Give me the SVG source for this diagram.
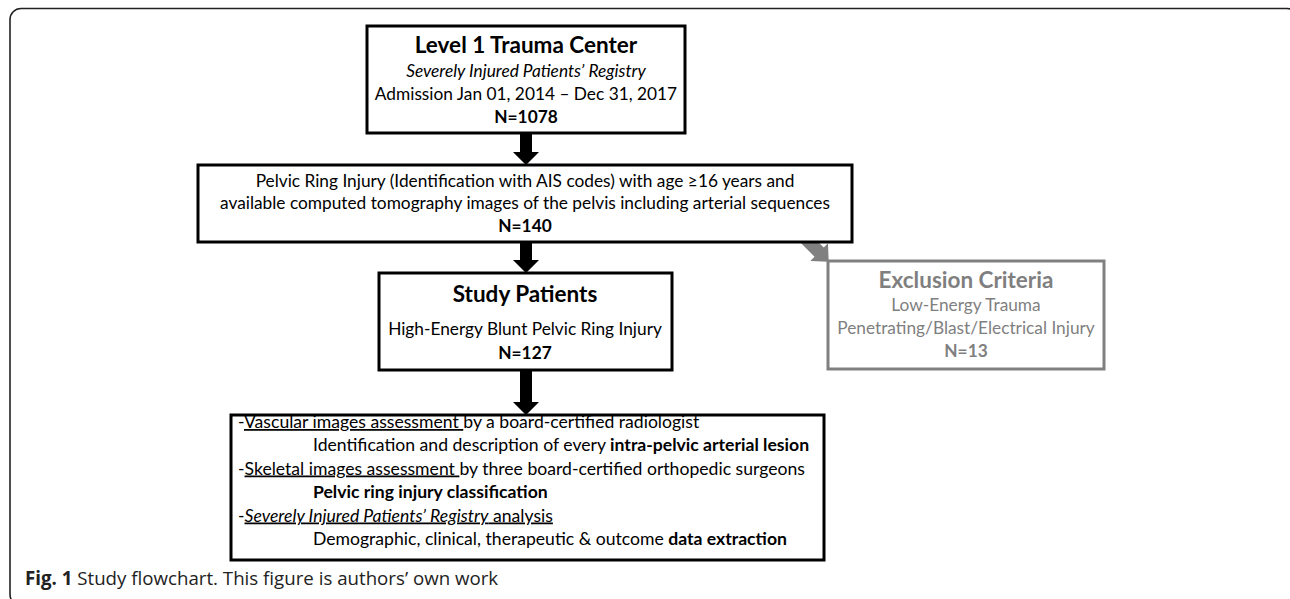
<svg xmlns="http://www.w3.org/2000/svg" width="1290" height="599" viewBox="0 0 1290 599">
<style>
.frame{fill:none;stroke:#222;stroke-width:1.6}
.box{fill:#fff;stroke:#000;stroke-width:3}
.gbox{fill:#fff;stroke:#808080;stroke-width:3}
.t{font-family:Lato,"Liberation Sans",sans-serif;font-size:17.3px;fill:#000}
.s{font-size:17.6px}
.c{text-anchor:middle}
.h{font-size:22.5px;font-weight:bold}
.b{font-weight:bold}
.i{font-style:italic}
.u{text-decoration:underline}
.g{fill:#7f7f7f}
.cap{font-family:"Open Sans","Liberation Sans",sans-serif;font-size:18.7px;fill:#222}
.arr{fill:#000}
.garr{fill:#808080}
</style>
<rect class="frame" x="10" y="8.5" width="1288" height="597" rx="11"/>
<g id="connectors">
<polygon class="arr" points="520,130 532,130 532,152 539,152 526,165 513,152 520,152"/>
<polygon class="arr" points="520,240 532,240 532,260 539,260 526,273 513,260 520,260"/>
<polygon class="arr" points="520,368 532,368 532,402 539,402 526,415 513,402 520,402"/>
<polygon class="garr" transform="translate(805,238) rotate(45)" points="0,-6.5 20,-6.5 20,-12.5 33.5,0 20,12.5 20,6.5 0,6.5"/>
</g>
<g id="registry">
<rect class="box" x="367" y="26" width="318" height="107"/>
<text class="t c h" x="526" y="53">Level 1 Trauma Center</text>
<text class="t c i" x="526" y="77">Severely Injured Patients’ Registry</text>
<text class="t c" x="526" y="100">Admission Jan 01, 2014 – Dec 31, 2017</text>
<text class="t c b" x="526" y="123">N=1078</text>
</g>
<g id="pelvic">
<rect class="box" x="198" y="165" width="654" height="77"/>
<text class="t c" x="525" y="187">Pelvic Ring Injury (Identification with AIS codes) with age ≥16 years and</text>
<text class="t c" x="525" y="209">available computed tomography images of the pelvis including arterial sequences</text>
<text class="t c b" x="525" y="232">N=140</text>
</g>
<g id="study">
<rect class="box" x="379" y="273" width="293" height="97"/>
<text class="t c h" x="525" y="302">Study Patients</text>
<text class="t c" x="525" y="335">High-Energy Blunt Pelvic Ring Injury</text>
<text class="t c b" x="525" y="359">N=127</text>
</g>
<g id="exclusion">
<rect class="gbox" x="828" y="261" width="276" height="108"/>
<text class="t c h g" x="966" y="288">Exclusion Criteria</text>
<text class="t c g" x="966" y="311">Low-Energy Trauma</text>
<text class="t c g" x="966" y="334">Penetrating/Blast/Electrical Injury</text>
<text class="t c b g" x="966" y="357">N=13</text>
</g>
<g id="assessment">
<rect class="box" x="231" y="415" width="593" height="145"/>
<text class="t s" x="238" y="428">-<tspan class="u">Vascular images assessment </tspan>by a board-certified radiologist</text>
<text class="t s" x="313" y="451">Identification and description of every <tspan class="b">intra-pelvic arterial lesion</tspan></text>
<text class="t s" x="238" y="474.5">-<tspan class="u">Skeletal images assessment </tspan>by three board-certified orthopedic surgeons</text>
<text class="t s b" x="313" y="498">Pelvic ring injury classification</text>
<text class="t s" x="238" y="521.5">-<tspan class="u"><tspan class="i">Severely Injured Patients’ Registry</tspan> analysis</tspan></text>
<text class="t s" x="313" y="545">Demographic, clinical, therapeutic &amp; outcome <tspan class="b">data extraction</tspan></text>
</g>
<text class="cap" x="25" y="585"><tspan font-weight="bold">Fig. 1</tspan> Study flowchart. This figure is authors’ own work</text>
</svg>
